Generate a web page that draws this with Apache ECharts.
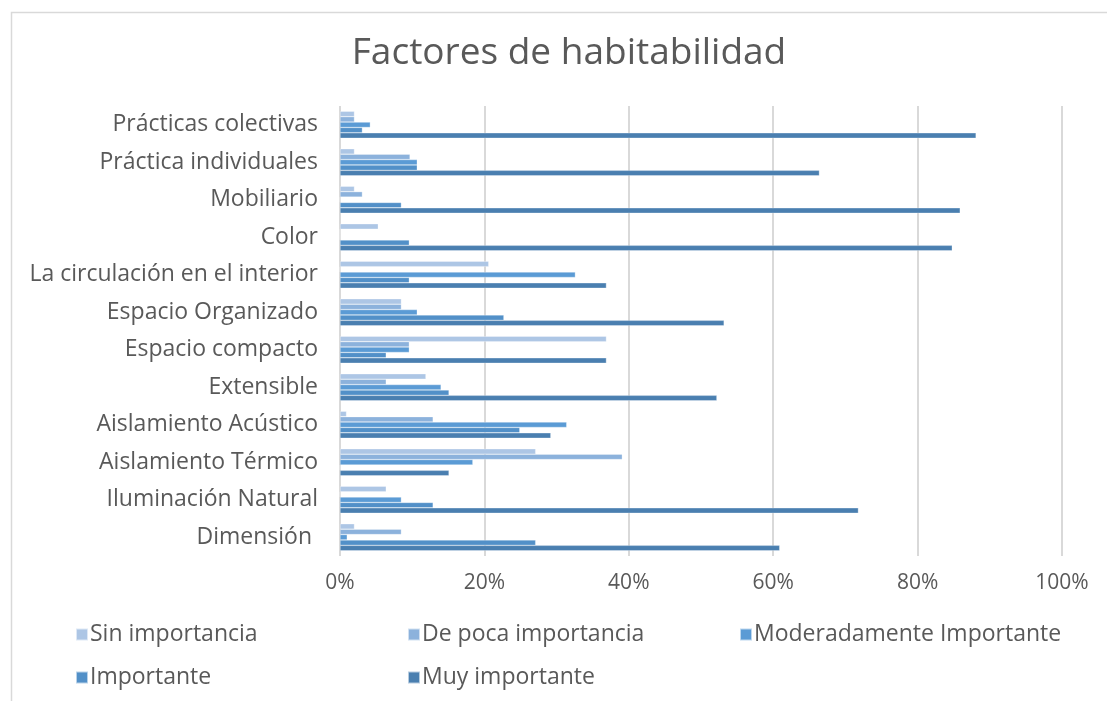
<!DOCTYPE html>
<html>
<head>
<meta charset="utf-8">
<title>Factores de habitabilidad</title>
<script src="https://cdn.jsdelivr.net/npm/echarts@6/dist/echarts.min.js"></script>
<style>
    html, body { margin: 0; padding: 0; background: #fff; }
    #chart { width: 1107px; height: 701px; }
</style>
</head>
<body>
<div id="chart"></div>
<script>
// categorias, de arriba hacia abajo
var categorias = ['Prácticas colectivas', 'Práctica individuales', 'Mobiliario', 'Color',
    'La circulación en el interior', 'Espacio Organizado', 'Espacio compacto', 'Extensible',
    'Aislamiento Acústico', 'Aislamiento Térmico', 'Iluminación Natural', 'Dimensión '];

var nombres = ['Sin importancia', 'De poca importancia', 'Moderadamente Importante', 'Importante', 'Muy importante'];

// porcentajes
var sinImportancia   = [2.0, 2.0, 2.0, 5.3, 20.6, 8.5, 36.9, 11.9, 0.9, 27.1, 6.4, 2.0];
var pocaImportancia  = [2.0, 9.7, 3.1, 0, 0, 8.5, 9.6, 6.4, 12.9, 39.1, 0, 8.5];
var moderadamente    = [4.2, 10.7, 0, 0, 32.6, 10.7, 9.6, 14.0, 31.4, 18.4, 8.5, 1.0];
var importante       = [3.1, 10.7, 8.5, 9.6, 9.6, 22.7, 6.4, 15.1, 24.9, 0, 12.9, 27.1];
var muyImportante    = [88.1, 66.4, 85.9, 84.8, 36.9, 53.2, 36.9, 52.2, 29.2, 15.1, 71.8, 60.9];

var ticks = ['0%', '20%', '40%', '60%', '80%', '100%'];

var colores = ['#adc6e5', '#8cb2dc', '#5b9bd5', '#5290c8', '#4a7fb0'];
var valores = [sinImportancia, pocaImportancia, moderadamente, importante, muyImportante];

var fuente = '"Open Sans", "Noto Sans", sans-serif';
var gris = '#595959';

var chart = echarts.init(document.getElementById('chart'));

var series = nombres.map(function (n, i) {
    return {
        name: n,
        type: 'bar',
        data: valores[i],
        barGap: '0%',
        barCategoryGap: '28%',
        itemStyle: { color: colores[i], borderColor: 'rgba(255,255,255,0.6)', borderWidth: 0.5 },
        animation: false
    };
});

// leyenda en dos filas con columnas fijas
var posLeyenda = [[70, 618], [402, 618], [734, 618], [70, 661], [402, 661]];
var leyendas = nombres.map(function (n, i) {
    return {
        data: [n],
        left: posLeyenda[i][0],
        top: posLeyenda[i][1],
        icon: 'rect',
        itemWidth: 12,
        itemHeight: 12,
        itemGap: 4,
        selectedMode: false,
        textStyle: { fontFamily: fuente, fontSize: 23, color: gris, padding: [0, 0, 0, -3] }
    };
});

var option = {
    backgroundColor: '#fff',
    title: {
        text: 'Factores de habitabilidad',
        left: 564,
        top: 30,
        textAlign: 'center',
        textStyle: { fontFamily: fuente, fontSize: 37, fontWeight: 'normal', color: gris }
    },
    legend: leyendas,
    grid: {
        left: 340,
        right: 45,
        top: 106,
        bottom: 145,
        containLabel: false
    },
    xAxis: {
        type: 'value',
        min: 0,
        max: 100,
        interval: 20,
        axisLine: { show: false },
        axisTick: { show: false },
        axisLabel: {
            margin: 17,
            fontFamily: fuente,
            fontSize: 21,
            color: gris,
            formatter: function (v) { return ticks[v / 20]; }
        },
        splitLine: { lineStyle: { color: '#d9d9d9', width: 2 } }
    },
    yAxis: {
        type: 'category',
        inverse: true,
        data: categorias,
        axisLine: { show: false },
        axisTick: { show: false },
        axisLabel: { margin: 22, fontFamily: fuente, fontSize: 23, color: gris }
    },
    graphic: [{
        type: 'rect',
        left: 9,
        top: 10,
        shape: { width: 1200, height: 800 },
        style: { fill: 'none', stroke: '#d9d9d9', lineWidth: 1.5 },
        silent: true,
        z: -10
    }],
    series: series
};

chart.setOption(option);
window.addEventListener('resize', function () {
    chart.resize();
});
</script>
</body>
</html>
